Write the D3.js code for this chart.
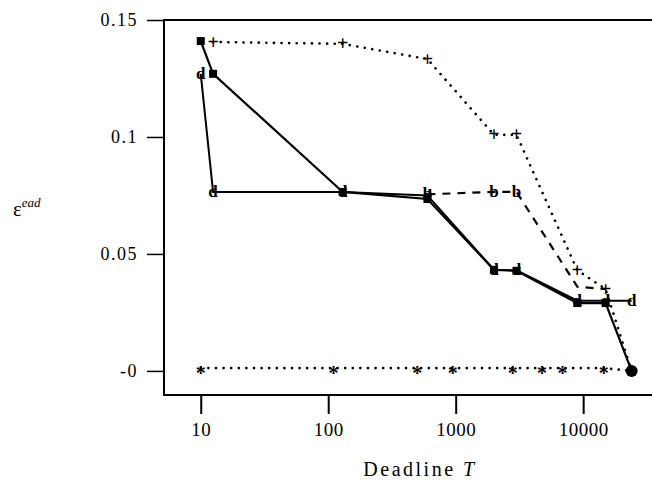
<!DOCTYPE html>
<html>
<head>
<meta charset="utf-8">
<script src="https://cdn.jsdelivr.net/npm/d3@7"></script>
<style>
  body { margin: 0; background: #fff; }
  text { font-family: "Liberation Serif", "DejaVu Serif", serif; fill: #000; }
</style>
</head>
<body>
<div id="chart"></div>
<script>
// values
var deadlines   = [10, 12.5, 130, 600, 2000, 3000, 9000, 15000, 24000];
var filledVals  = [0.141, 0.127, 0.0765, 0.0735, 0.0432, 0.0428, 0.029, 0.029, 0.0];
var dVals       = [0.127, 0.0765, 0.0765, 0.075, 0.0432, 0.043, 0.030, 0.030, 0.030];
var bDeadlines  = [600, 2000, 3000, 9000, 15000];
var bVals       = [0.0755, 0.0765, 0.0765, 0.036, 0.035];
var plusDeadlines = [12.5, 130, 600, 2000, 3000, 9000, 15000, 24000];
var plusVals      = [0.1406, 0.1398, 0.1333, 0.1009, 0.1009, 0.043, 0.035, 0.0];
var starDeadlines = [10, 110, 500, 950, 2800, 4750, 6900, 14500, 24000];
var starVals      = [0.0012, 0.0012, 0.0012, 0.0012, 0.0012, 0.0012, 0.0012, 0.0012, 0.0];
var xTicks = [10, 100, 1000, 10000];
var yTicks = [0, 0.05, 0.1, 0.15];
var yTickLabels = ["-0", "0.05", "0.1", "0.15"];

var width = 652, height = 483;
var plotLeft = 164, plotTop = 20, plotBottom = 395, plotRight = 670;

var svg = d3.select("#chart").append("svg")
    .attr("width", width)
    .attr("height", height);

var x = d3.scaleLog().domain([5.15, 48000]).range([plotLeft, plotRight]);
var y = d3.scaleLinear().domain([-0.0103, 0.15]).range([plotBottom, plotTop]);

// frame
svg.append("path")
    .attr("d", "M" + plotRight + "," + plotTop + "H" + plotLeft + "V" + plotBottom + "H" + plotRight)
    .attr("fill", "none")
    .attr("stroke", "#000")
    .attr("stroke-width", 2);

// y axis
var yAxis = svg.append("g")
    .attr("transform", "translate(" + plotLeft + ",0)")
    .call(d3.axisLeft(y).tickValues(yTicks).tickSize(17).tickPadding(9)
      .tickFormat(function(d, i) { return yTickLabels[i]; }));
yAxis.select(".domain").remove();
yAxis.selectAll("line").attr("stroke-width", 1.5);
yAxis.selectAll("text")
    .style("font-family", "Liberation Serif")
    .style("font-size", "18px")
    .style("letter-spacing", "1.5px");

// x axis
var xAxis = svg.append("g")
    .attr("transform", "translate(0," + plotBottom + ")")
    .call(d3.axisBottom(x).tickValues(xTicks).tickSize(19).tickPadding(9)
      .tickFormat(d3.format("d")));
xAxis.select(".domain").remove();
xAxis.selectAll("line").attr("stroke-width", 2);
xAxis.selectAll("text")
    .style("font-family", "Liberation Serif")
    .style("font-size", "19px")
    .style("letter-spacing", "0.5px");

// axis titles
var xt = svg.append("text")
    .attr("x", 420)
    .attr("y", 476)
    .attr("text-anchor", "middle")
    .style("font-size", "20px")
    .style("letter-spacing", "2.5px");
xt.append("tspan").text("Deadline ");
xt.append("tspan").style("font-style", "italic").text("T");

var yt = svg.append("text")
    .attr("x", 13)
    .attr("y", 216)
    .style("font-size", "21px");
yt.append("tspan").text("ε");
yt.append("tspan").attr("dy", -9).style("font-size", "13px").style("font-style", "italic").text("ead");

function pts(xs, ys) { return xs.map(function(d, i) { return [d, ys[i]]; }); }

var line = d3.line()
    .x(function(d) { return x(d[0]); })
    .y(function(d) { return y(d[1]); });

var plusData = pts(plusDeadlines, plusVals);
var starData = pts(starDeadlines, starVals);
var bData = pts(bDeadlines, bVals);
var dData = pts(deadlines, dVals);
var filledData = pts(deadlines, filledVals);

// dotted "+" series
svg.append("path").datum(plusData)
    .attr("d", line).attr("fill", "none").attr("stroke", "#000")
    .attr("stroke-width", 2.6).attr("stroke-linecap", "round")
    .attr("stroke-dasharray", "0.1,7.5");

// dotted "*" series
svg.append("path").datum(starData)
    .attr("d", line).attr("fill", "none").attr("stroke", "#000")
    .attr("stroke-width", 2.6).attr("stroke-linecap", "round")
    .attr("stroke-dasharray", "0.1,7.5");

// dashed "b" series
svg.append("path").datum(bData)
    .attr("d", line).attr("fill", "none").attr("stroke", "#000")
    .attr("stroke-width", 2.2).attr("stroke-dasharray", "8,7");

// solid "d" series
svg.append("path").datum(dData)
    .attr("d", line).attr("fill", "none").attr("stroke", "#000")
    .attr("stroke-width", 2);

// solid filled series
svg.append("path").datum(filledData)
    .attr("d", line).attr("fill", "none").attr("stroke", "#000")
    .attr("stroke-width", 2.2);

// glyph markers
function glyphs(data, ch, size, dy) {
  svg.append("g").selectAll("text")
    .data(data)
    .enter()
    .append("text")
      .attr("x", function(d) { return x(d[0]); })
      .attr("y", function(d) { return y(d[1]); })
      .attr("dy", dy)
      .attr("text-anchor", "middle")
      .style("font-size", size + "px")
      .style("font-weight", "bold")
      .text(ch);
}
glyphs(plusData, "+", 20, "0.33em");
glyphs(starData.slice(0, -1), "*", 20, "0.62em");
glyphs(bData.slice(0, 3), "b", 17, "0.3em");
glyphs(dData, "d", 17, "0.3em");

// filled markers
svg.append("g").selectAll("rect")
    .data(filledData.slice(0, -1))
    .enter()
    .append("rect")
      .attr("x", function(d) { return x(d[0]) - 4; })
      .attr("y", function(d) { return y(d[1]) - 4; })
      .attr("width", 8)
      .attr("height", 8)
      .attr("fill", "#000");
svg.append("circle")
    .datum(filledData[filledData.length - 1])
    .attr("cx", function(d) { return x(d[0]); })
    .attr("cy", function(d) { return y(d[1]); })
    .attr("r", 6)
    .attr("fill", "#000");
</script>
</body>
</html>
